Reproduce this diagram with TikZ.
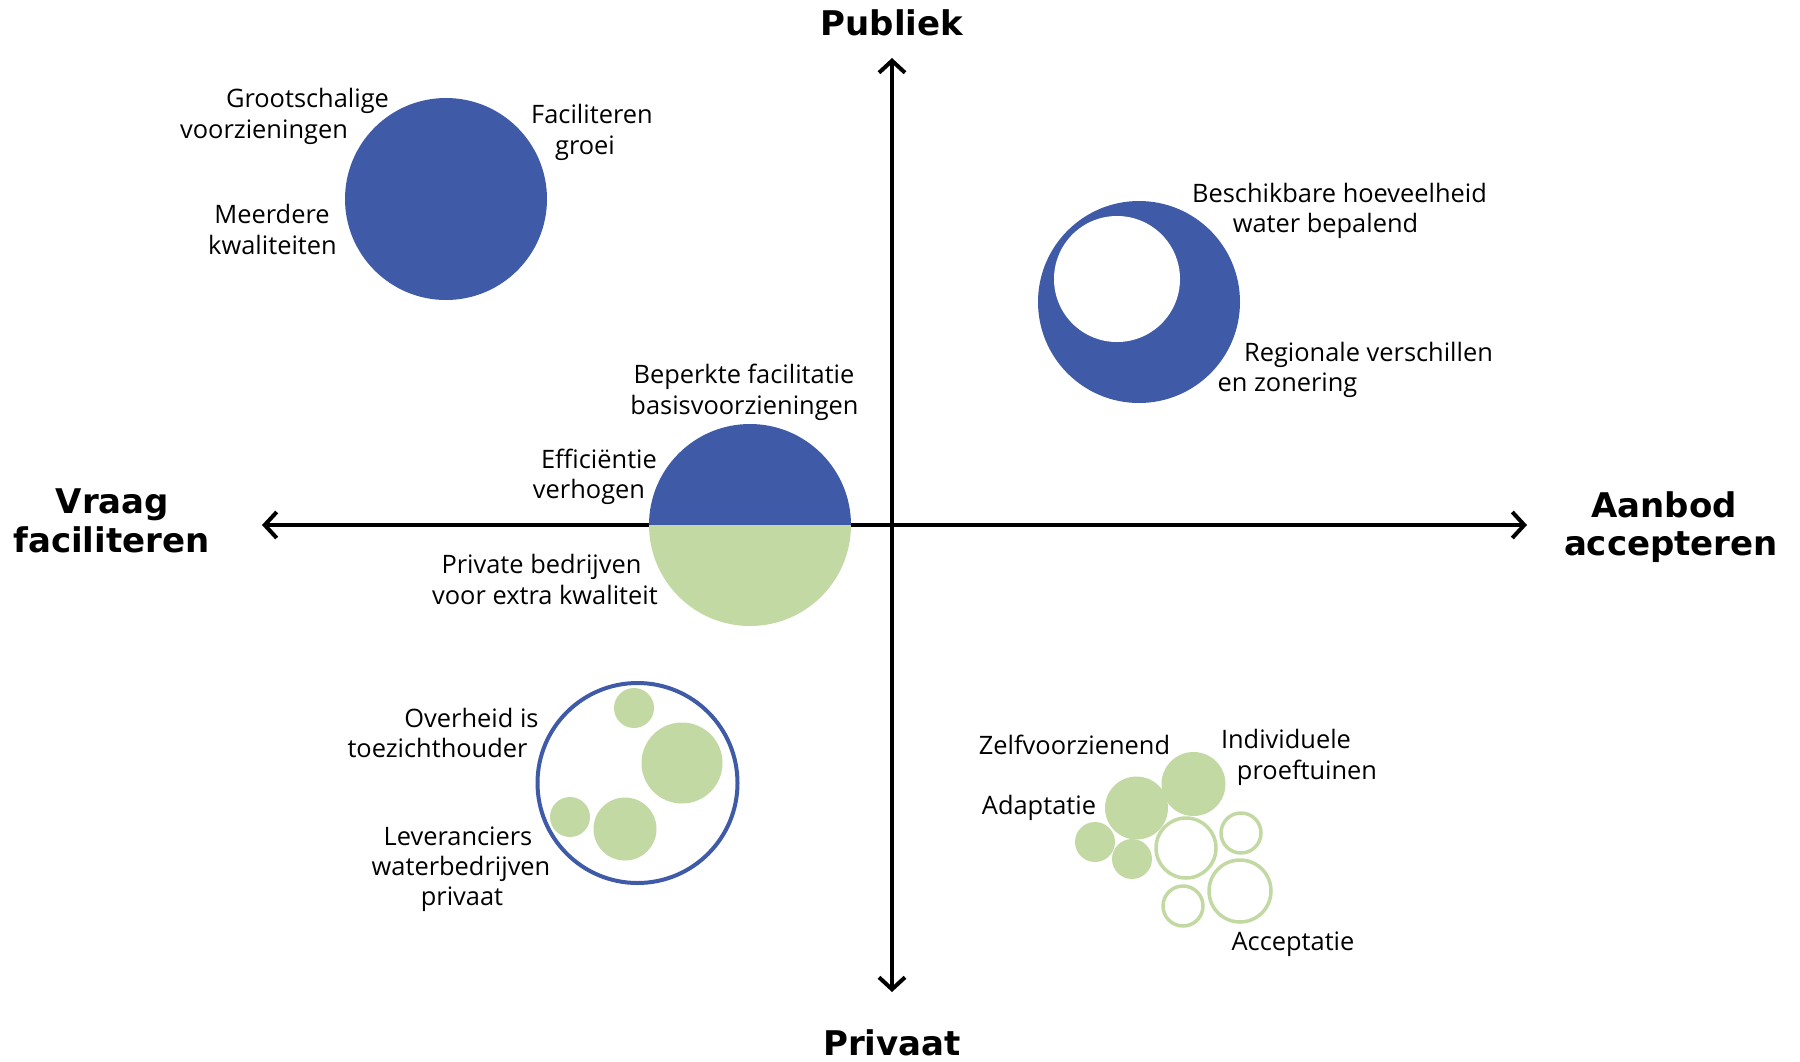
\documentclass[tikz,border=0pt]{standalone}
\usepackage{fontspec}
\setmainfont{Open Sans}
\newfontfamily\titlefont{DejaVu Sans}
\usetikzlibrary{arrows.meta}
\definecolor{cblue}{RGB}{63,91,167}
\definecolor{cgreen}{RGB}{195,217,164}
\begin{document}
\begin{tikzpicture}[x=0.5pt,y=-0.5pt,
  lbl/.style={anchor=base, inner sep=0pt, font=\fontsize{12.7pt}{14pt}\selectfont},
  ttl/.style={anchor=base, inner sep=0pt, font=\titlefont\bfseries\fontsize{17pt}{20pt}\selectfont},
  axis/.style={line width=2pt, {Straight Barb[length=6pt,width=13pt]}-{Straight Barb[length=6pt,width=13pt]}},
  dot/.style={circle, inner sep=0pt, outer sep=0pt, minimum size=#1pt},
  bdot/.style={dot=#1, fill=cblue},
  gdot/.style={dot=#1, fill=cgreen},
  wdot/.style={dot=#1, fill=white},
  bring/.style={dot=#1, draw=cblue, fill=white, line width=2pt},
  gring/.style={dot=#1, draw=cgreen, fill=white, line width=1.75pt}
]
\useasboundingbox (0,0) rectangle (1800,1061);
% axes
\coordinate (top) at (892,58);
\coordinate (bot) at (892,992);
\coordinate (lft) at (262,525);
\coordinate (rgt) at (1527,525);
\draw[axis] (lft) -- (rgt);
\draw[axis] (top) -- (bot);
% titles
\node[ttl] (publiek) at (892,35) {Publiek};
\node[ttl] (privaat) at (892,1055) {Privaat};
\node[ttl] (vraag) at (112.5,513) {Vraag};
\node[ttl] (facil) at (111.5,552) {faciliteren};
\node[ttl] (aanbod) at (1664,517) {Aanbod};
\node[ttl] (accept) at (1671,555) {accepteren};
% top-left circle
\node[bdot=101] (c1) at (446,199) {};
\node[lbl] (l1a) at (307.5,107) {Grootschalige};
\node[lbl] (l1b) at (264,138) {voorzieningen};
\node[lbl] (l1c) at (592,123) {Faciliteren};
\node[lbl] (l1d) at (585,154) {groei};
\node[lbl] (l1e) at (272,223) {Meerdere};
\node[lbl] (l1f) at (272.5,254) {kwaliteiten};
% top-right crescent
\node[bdot=101] (c2) at (1139,302) {};
\node[wdot=63] (c2in) at (1117,279) {};
\node[lbl] (l2a) at (1339.5,202) {Beschikbare hoeveelheid};
\node[lbl] (l2b) at (1325.5,232) {water bepalend};
\node[lbl] (l2c) at (1368.5,361) {Regionale verschillen};
\node[lbl] (l2d) at (1287.5,391) {en zonering};
% half circle
\node[dot=101] (c3) at (750,525) {};
\fill[cblue] (c3.west) arc[start angle=180, end angle=0, radius=50.5pt] -- cycle;
\fill[cgreen] (c3.west) arc[start angle=180, end angle=360, radius=50.5pt] -- cycle;
\node[lbl] (l3a) at (744,383) {Beperkte facilitatie};
\node[lbl] (l3b) at (744.5,414) {basisvoorzieningen};
\node[lbl] (l3c) at (599,468) {Efficiëntie};
\node[lbl] (l3d) at (589,498) {verhogen};
\node[lbl] (l3e) at (541.5,573) {Private bedrijven};
\node[lbl] (l3f) at (545,604) {voor extra kwaliteit};
% bottom-left ring
\node[bring=100] (c4) at (637.5,783) {};
\node[gdot=20] (c4a) at (634,708) {};
\node[gdot=40.5] (c4b) at (682,763) {};
\node[gdot=20] (c4c) at (570,817) {};
\node[gdot=31.5] (c4d) at (625,829) {};
\node[lbl] (l4a) at (471.5,727) {Overheid is};
\node[lbl] (l4b) at (437.5,757) {toezichthouder};
\node[lbl] (l4c) at (458,845) {Leveranciers};
\node[lbl] (l4d) at (461,875) {waterbedrijven};
\node[lbl] (l4e) at (462,905) {privaat};
% bottom-right cluster
\node[gdot=32] (c5a) at (1193.5,784) {};
\node[gdot=31.5] (c5b) at (1136.5,808) {};
\node[gdot=20] (c5c) at (1095,842) {};
\node[gdot=20] (c5d) at (1132,859) {};
\node[gring=30] (c5e) at (1186,848) {};
\node[gring=20] (c5f) at (1241,833) {};
\node[gring=20] (c5g) at (1183,906) {};
\node[gring=31] (c5h) at (1240,891) {};
\node[lbl] (l5a) at (1074.5,754) {Zelfvoorzienend};
\node[lbl] (l5b) at (1286,748) {Individuele};
\node[lbl] (l5c) at (1307,779) {proeftuinen};
\node[lbl] (l5d) at (1039,814) {Adaptatie};
\node[lbl] (l5e) at (1293,950) {Acceptatie};
\end{tikzpicture}
\end{document}
